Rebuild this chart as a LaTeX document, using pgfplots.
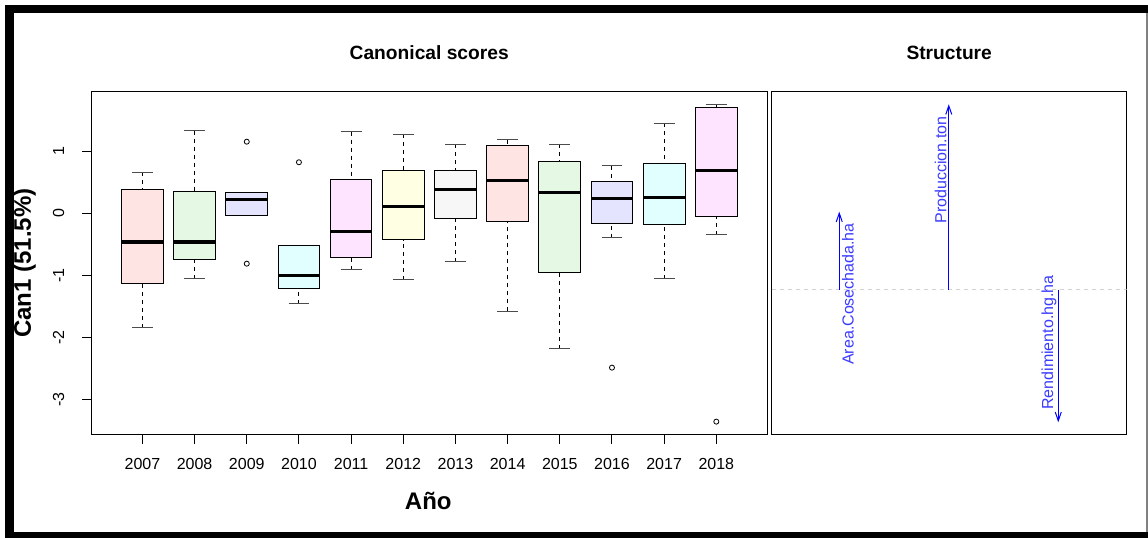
\documentclass[border=0pt]{standalone}
\usepackage{fontspec}
\setmainfont{Liberation Sans}
\usepackage{pgfplots}
\pgfplotsset{compat=1.18}
\usepgfplotslibrary{statistics}
\usetikzlibrary{arrows.meta}
\definecolor{cA}{RGB}{255,228,228}
\definecolor{cB}{RGB}{228,248,228}
\definecolor{cC}{RGB}{228,228,255}
\definecolor{cD}{RGB}{226,255,255}
\definecolor{cE}{RGB}{255,228,255}
\definecolor{cF}{RGB}{255,255,228}
\definecolor{cG}{RGB}{247,247,247}
\definecolor{labblue}{RGB}{60,60,255}
\definecolor{dashgray}{RGB}{211,211,211}
\pgfplotsset{
  boxplot/draw/median/.code={\draw[line width=2.6pt, black, solid] (boxplot box cs:\pgfplotsboxplotvalue{median},0) -- (boxplot box cs:\pgfplotsboxplotvalue{median},1);},
  boxplot/draw/lower whisker/.code={%
    \draw[black, line width=0.75pt, dash pattern=on 3pt off 3pt] (boxplot box cs:\pgfplotsboxplotvalue{lower whisker},0.5) -- (boxplot box cs:\pgfplotsboxplotvalue{lower quartile},0.5);
    \draw[black!70, line width=0.75pt, solid] (boxplot whisker cs:\pgfplotsboxplotvalue{lower whisker},0) -- (boxplot whisker cs:\pgfplotsboxplotvalue{lower whisker},1);},
  boxplot/draw/upper whisker/.code={%
    \draw[black, line width=0.75pt, dash pattern=on 3pt off 3pt] (boxplot box cs:\pgfplotsboxplotvalue{upper whisker},0.5) -- (boxplot box cs:\pgfplotsboxplotvalue{upper quartile},0.5);
    \draw[black!70, line width=0.75pt, solid] (boxplot whisker cs:\pgfplotsboxplotvalue{upper whisker},0) -- (boxplot whisker cs:\pgfplotsboxplotvalue{upper whisker},1);},
  rb/.style={draw=black, line width=0.75pt, solid, mark=o, mark size=1.9pt,
    mark options={solid, black, line width=0.6pt, fill=none},
    boxplot/draw direction=y,
    boxplot/box extend=0.8, boxplot/whisker extend=0.4},
}
\begin{document}
\begin{tikzpicture}
\fill[white] (0,0) rectangle (861pt,-403.5pt);
\fill[black] (3.75pt,-3.75pt) rectangle (861pt,-403.5pt);
\fill[white] (10.5pt,-10.125pt) rectangle (859.9pt,-398.8pt);
\draw[gray, line width=0.9pt] (860.25pt,-10.125pt) -- (860.25pt,-398.8pt);
\begin{axis}[
  at={(68.475pt,-68.625pt)}, anchor=north west,
  scale only axis, width=507.1pt, height=257.6pt,
  xmin=0.02, xmax=12.98, ymin=-3.576, ymax=1.9645,
  xtick={1,2,3,4,5,6,7,8,9,10,11,12},
  xticklabels={2007,2008,2009,2010,2011,2012,2013,2014,2015,2016,2017,2018},
  ytick={-3,-2,-1,0,1},
  tick align=outside, tick pos=left, major tick length=6.75pt,
  axis line style={line width=0.75pt},
  every tick/.style={black, line width=0.75pt},
  tick label style={font=\fontsize{12}{14}\selectfont},
  /pgf/number format/assume math mode=true,
  xticklabel style={anchor=base, yshift=-19.5pt},
  yticklabel style={xshift=-13.7pt, rotate=90, anchor=base},
]
\addplot[rb, boxplot prepared={draw position=1, lower whisker=-1.845, lower quartile=-1.135, median=-0.463, upper quartile=0.387, upper whisker=0.661, every box/.style={fill=cA}}] coordinates {};
\addplot[rb, boxplot prepared={draw position=2, lower whisker=-1.06, lower quartile=-0.753, median=-0.463, upper quartile=0.348, upper whisker=1.332, every box/.style={fill=cB}}] coordinates {};
\addplot[rb, boxplot prepared={draw position=3, lower whisker=-0.039, lower quartile=-0.039, median=0.22, upper quartile=0.332, upper whisker=0.332, every box/.style={fill=cC}}] coordinates {(0,1.155) (0,-0.813)};
\addplot[rb, boxplot prepared={draw position=4, lower whisker=-1.458, lower quartile=-1.216, median=-1.006, upper quartile=-0.516, upper whisker=-0.516, every box/.style={fill=cD}}] coordinates {(0,0.823)};
\addplot[rb, boxplot prepared={draw position=5, lower whisker=-0.91, lower quartile=-0.716, median=-0.297, upper quartile=0.548, upper whisker=1.316, every box/.style={fill=cE}}] coordinates {};
\addplot[rb, boxplot prepared={draw position=6, lower whisker=-1.076, lower quartile=-0.426, median=0.107, upper quartile=0.693, upper whisker=1.274, every box/.style={fill=cF}}] coordinates {};
\addplot[rb, boxplot prepared={draw position=7, lower whisker=-0.78, lower quartile=-0.087, median=0.387, upper quartile=0.693, upper whisker=1.113, every box/.style={fill=cG}}] coordinates {};
\addplot[rb, boxplot prepared={draw position=8, lower whisker=-1.581, lower quartile=-0.135, median=0.532, upper quartile=1.09, upper whisker=1.187, every box/.style={fill=cA}}] coordinates {};
\addplot[rb, boxplot prepared={draw position=9, lower whisker=-2.184, lower quartile=-0.958, median=0.339, upper quartile=0.839, upper whisker=1.113, every box/.style={fill=cB}}] coordinates {};
\addplot[rb, boxplot prepared={draw position=10, lower whisker=-0.394, lower quartile=-0.168, median=0.242, upper quartile=0.516, upper whisker=0.768, every box/.style={fill=cC}}] coordinates {(0,-2.49)};
\addplot[rb, boxplot prepared={draw position=11, lower whisker=-1.055, lower quartile=-0.184, median=0.258, upper quartile=0.806, upper whisker=1.452, every box/.style={fill=cD}}] coordinates {};
\addplot[rb, boxplot prepared={draw position=12, lower whisker=-0.345, lower quartile=-0.048, median=0.693, upper quartile=1.71, upper whisker=1.758, every box/.style={fill=cE}}] coordinates {(0,-3.361)};
\end{axis}
\begin{axis}[
  at={(578.775pt,-68.625pt)}, anchor=north west,
  scale only axis, width=266.25pt, height=257.6pt,
  xmin=0.383, xmax=3.625, ymin=-0.745, ymax=1.0164,
  xtick=\empty, ytick=\empty,
  axis line style={line width=0.75pt},
]
\addplot[dashgray, line width=1.1pt, dash pattern=on 3pt off 3pt] coordinates {(0.383,0) (3.625,0)};
\addplot[blue, line width=0.75pt, -{Straight Barb[length=6.5pt,width=4.5pt]}] coordinates {(1,0) (1,0.4)};
\addplot[blue, line width=0.75pt, -{Straight Barb[length=6.5pt,width=4.5pt]}] coordinates {(2,0) (2,0.951)};
\addplot[blue, line width=0.75pt, -{Straight Barb[length=6.5pt,width=4.5pt]}] coordinates {(3,0) (3,-0.68)};
\node[rotate=90, text=labblue, font=\fontsize{12}{14}\selectfont] at (axis cs:1.079,-0.022) {Area.Cosechada.ha};
\node[rotate=90, text=labblue, font=\fontsize{12}{14}\selectfont] at (axis cs:1.926,0.614) {Produccion.ton};
\node[rotate=90, text=labblue, font=\fontsize{12}{14}\selectfont] at (axis cs:2.915,-0.271) {Rendimiento.hg.ha};
\end{axis}
\node[font=\fontsize{14.4}{16}\selectfont\bfseries, anchor=base] at (321.9pt,-44.5pt) {Canonical scores};
\node[font=\fontsize{14.4}{16}\selectfont\bfseries, anchor=base] at (711.9pt,-44.5pt) {Structure};
\node[font=\fontsize{18}{20}\selectfont\bfseries, anchor=base] at (321.2pt,-381.75pt) {Año};
\node[font=\fontsize{18}{20}\selectfont\bfseries, rotate=90, anchor=base] at (23.25pt,-197.4pt) {Can1 (51.5\%)};
\end{tikzpicture}
\end{document}
